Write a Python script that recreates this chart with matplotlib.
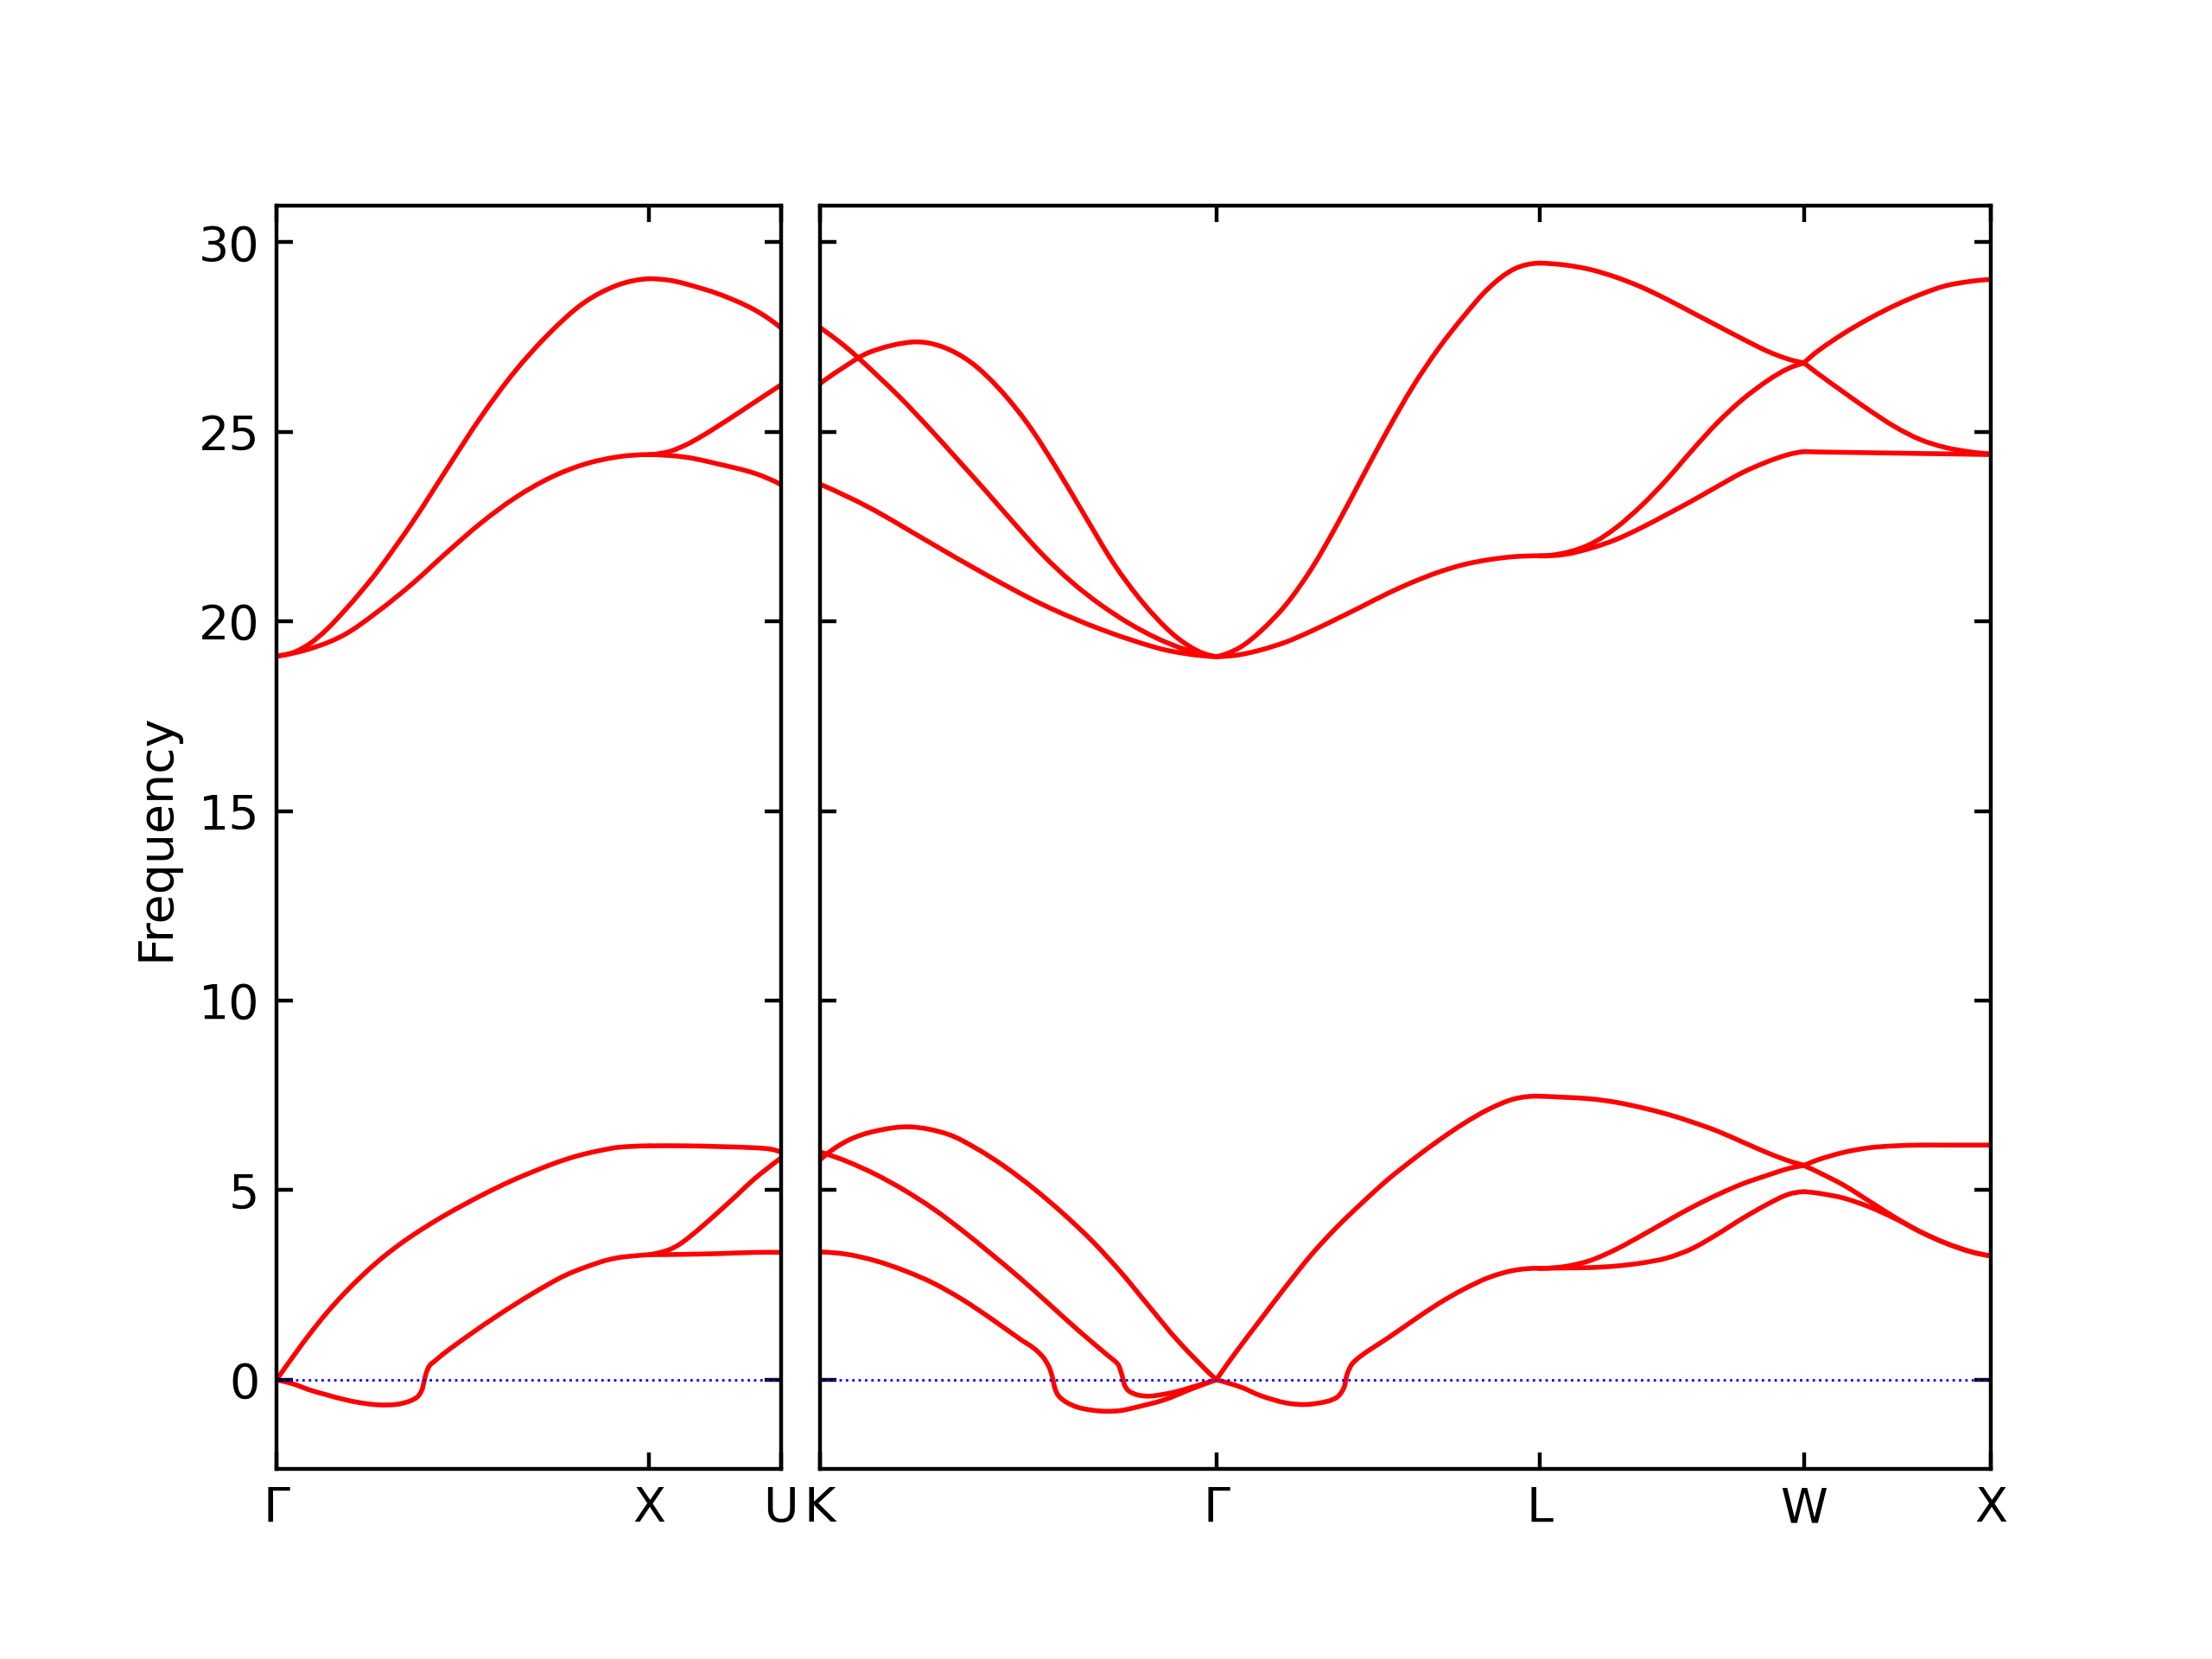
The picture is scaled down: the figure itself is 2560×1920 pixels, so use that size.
import numpy as np
import matplotlib
matplotlib.use("Agg")
import matplotlib.pyplot as plt
from matplotlib.path import Path
from matplotlib.patches import PathPatch

# ---- path segment lengths (2pi/a units) ----
seg_GX, seg_XU = 1.0, 0.3536
seg_KG, seg_GL, seg_LW, seg_WX = 1.0607, 0.8660, 0.7071, 0.5

left_labels = ["Γ", "X", "U"]
right_labels = ["K", "Γ", "L", "W", "X"]
ytick_vals = [0, 5, 10, 15, 20, 25, 30]

# ---- Γ-X (fraction along segment, frequency) ----
gx_lo_q = [0, 0.045, 0.090, 0.136, 0.182, 0.228, 0.273, 0.365, 0.457, 0.549, 0.640, 0.732, 0.824, 0.915, 1.0]
gx_lo_f = [19.09, 19.18, 19.42, 19.80, 20.28, 20.80, 21.35, 22.62, 24.02, 25.40, 26.60, 27.60, 28.40, 28.87, 29.04]
gx_to_q = [0, 0.090, 0.182, 0.273, 0.365, 0.457, 0.549, 0.640, 0.732, 0.824, 0.915, 1.0]
gx_to_f = [19.09, 19.28, 19.65, 20.27, 21.0, 21.82, 22.6, 23.26, 23.78, 24.14, 24.34, 24.40]
gx_la_q = [0, 0.045, 0.09, 0.136, 0.182, 0.228, 0.273, 0.319, 0.365, 0.411, 0.457, 0.503, 0.549,
           0.594, 0.640, 0.686, 0.732, 0.778, 0.824, 0.870, 0.916, 1.0]
gx_la_f = [0, 0.62, 1.22, 1.78, 2.28, 2.73, 3.13, 3.49, 3.81, 4.10, 4.37, 4.62, 4.86,
           5.08, 5.29, 5.48, 5.66, 5.82, 5.95, 6.05, 6.13, 6.17]
gx_ta_q = [0, 0.045, 0.09, 0.136, 0.182, 0.228, 0.273, 0.32, 0.355, 0.378, 0.39, 0.396, 0.402,
           0.411, 0.424, 0.447, 0.484, 0.521, 0.594, 0.686, 0.778, 0.870, 0.916, 0.961, 1.0]
gx_ta_f = [0, -0.11, -0.27, -0.40, -0.52, -0.61, -0.66, -0.65, -0.57, -0.45, -0.27, -0.04, 0.19,
           0.38, 0.49, 0.68, 0.95, 1.21, 1.70, 2.27, 2.77, 3.11, 3.22, 3.27, 3.30]

# ---- X-U ----
xu_lo_q = [0, 0.15, 0.28, 0.539, 0.798, 1.0]
xu_lo_f = [29.04, 29.00, 28.90, 28.62, 28.22, 27.74]
xu_to1_q = [0, 0.15, 0.28, 0.41, 0.539, 0.668, 0.798, 1.0]
xu_to1_f = [24.40, 24.48, 24.66, 24.91, 25.19, 25.48, 25.78, 26.24]
xu_to2_q = [0, 0.28, 0.539, 0.798, 1.0]
xu_to2_f = [24.40, 24.33, 24.14, 23.91, 23.61]
xu_la_q = [0, 0.28, 0.539, 0.798, 0.927, 1.0]
xu_la_f = [6.17, 6.17, 6.15, 6.12, 6.08, 6.00]
xu_ta1_q = [0, 0.28, 0.539, 0.798, 1.0]
xu_ta1_f = [3.30, 3.31, 3.33, 3.36, 3.36]
xu_ta2_q = [0, 0.073, 0.150, 0.228, 0.306, 0.409, 0.539, 0.668, 0.798, 1.0]
xu_ta2_f = [3.30, 3.35, 3.43, 3.57, 3.77, 4.07, 4.47, 4.88, 5.30, 5.85]

# ---- K-Γ ----
kg_p_q = [0, 0.052, 0.097, 0.198, 0.271, 0.343, 0.416, 0.489, 0.561, 0.634, 0.707, 0.780, 0.852, 0.925, 1.0]
kg_p_f = [27.75, 27.35, 26.95, 25.95, 25.15, 24.32, 23.47, 22.60, 21.77, 21.05, 20.45, 19.95, 19.55, 19.25, 19.07]
kg_h_q = [0, 0.052, 0.125, 0.234, 0.307, 0.380, 0.452, 0.525, 0.598, 0.671, 0.743, 0.816, 0.889, 0.950, 1.0]
kg_h_f = [26.27, 26.65, 27.10, 27.37, 27.25, 26.84, 26.14, 25.20, 24.02, 22.74, 21.50, 20.48, 19.68, 19.24, 19.07]
kg_r_q = [0, 0.125, 0.271, 0.416, 0.561, 0.707, 0.852, 0.93, 1.0]
kg_r_f = [23.62, 23.0, 22.12, 21.25, 20.45, 19.80, 19.30, 19.14, 19.07]
kg_s_q = [0, 0.068, 0.140, 0.228, 0.322, 0.395, 0.468, 0.540, 0.613, 0.686, 0.759, 0.831, 0.904, 1.0]
kg_s_f = [5.80, 6.30, 6.56, 6.67, 6.48, 6.10, 5.61, 5.04, 4.39, 3.67, 2.84, 1.93, 1.02, 0.0]
kg_m_q = [0, 0.068, 0.140, 0.213, 0.286, 0.359, 0.431, 0.504, 0.577, 0.649, 0.722, 0.751, 0.759,
          0.764, 0.769, 0.780, 0.802, 0.831, 0.868, 0.904, 0.940, 1.0]
kg_m_f = [6.01, 5.76, 5.42, 5.00, 4.51, 3.94, 3.33, 2.69, 2.01, 1.33, 0.68, 0.42, 0.23,
          0.04, -0.15, -0.30, -0.40, -0.43, -0.38, -0.30, -0.19, 0.0]
kg_t_q = [0, 0.068, 0.140, 0.213, 0.286, 0.359, 0.431, 0.504, 0.540, 0.562, 0.575, 0.582, 0.588,
          0.593, 0.602, 0.620, 0.649, 0.686, 0.722, 0.759, 0.795, 0.868, 0.940, 1.0]
kg_t_f = [3.37, 3.31, 3.14, 2.88, 2.55, 2.12, 1.62, 1.08, 0.83, 0.61, 0.40, 0.23, 0.0,
          -0.23, -0.42, -0.58, -0.72, -0.80, -0.83, -0.81, -0.73, -0.53, -0.23, 0.0]

# ---- Γ-L ----
gl_lo_q = [0, 0.070, 0.138, 0.216, 0.295, 0.373, 0.451, 0.530, 0.608, 0.687, 0.765, 0.843, 0.922, 1.0]
gl_lo_f = [19.07, 19.30, 19.75, 20.45, 21.40, 22.55, 23.80, 25.05, 26.20, 27.20, 28.05, 28.80, 29.30, 29.45]
gl_to_q = [0, 0.070, 0.138, 0.216, 0.295, 0.373, 0.451, 0.530, 0.608, 0.687, 0.765, 0.843, 0.922, 1.0]
gl_to_f = [19.07, 19.12, 19.25, 19.46, 19.75, 20.07, 20.40, 20.74, 21.04, 21.30, 21.50, 21.63, 21.71, 21.73]
gl_la_q = [0, 0.060, 0.138, 0.216, 0.295, 0.373, 0.451, 0.530, 0.608, 0.687, 0.765, 0.843, 0.922, 1.0]
gl_la_f = [0, 0.72, 1.60, 2.47, 3.31, 4.03, 4.67, 5.28, 5.81, 6.31, 6.76, 7.14, 7.41, 7.48]
gl_ta_q = [0, 0.075, 0.138, 0.216, 0.279, 0.342, 0.373, 0.389, 0.397, 0.401, 0.408, 0.420, 0.444,
           0.483, 0.530, 0.608, 0.687, 0.765, 0.843, 0.922, 1.0]
gl_ta_f = [0, -0.19, -0.42, -0.61, -0.65, -0.57, -0.46, -0.30, -0.15, 0.04, 0.23, 0.42, 0.61,
           0.84, 1.10, 1.56, 2.01, 2.39, 2.70, 2.89, 2.94]

# ---- L-W ----
lw_q = [0, 0.096, 0.192, 0.288, 0.384, 0.480, 0.576, 0.672, 0.768, 0.864, 0.940, 1.0]
lw_lo_f = [29.45, 29.40, 29.28, 29.08, 28.82, 28.50, 28.15, 27.80, 27.45, 27.12, 26.92, 26.82]
lw_to1_f = [21.73, 21.81, 22.04, 22.47, 23.05, 23.74, 24.51, 25.24, 25.86, 26.36, 26.67, 26.81]
lw_to2_f = [21.73, 21.77, 21.93, 22.16, 22.47, 22.82, 23.18, 23.56, 23.93, 24.22, 24.40, 24.48]
lw_la_f = [7.48, 7.45, 7.41, 7.32, 7.18, 7.01, 6.80, 6.56, 6.27, 5.98, 5.78, 5.66]
lw_ta1_f = [2.94, 2.99, 3.15, 3.44, 3.80, 4.18, 4.55, 4.88, 5.17, 5.40, 5.57, 5.65]
lw_ta2_f = [2.94, 2.95, 2.96, 3.00, 3.08, 3.21, 3.46, 3.84, 4.26, 4.64, 4.89, 4.96]

# ---- W-X ----
wx_q = [0, 0.079, 0.214, 0.350, 0.485, 0.621, 0.756, 0.892, 1.0]
wx_up_f = [26.82, 27.15, 27.60, 27.99, 28.33, 28.62, 28.85, 28.97, 29.02]
wx_dn_f = [26.82, 26.52, 26.04, 25.57, 25.14, 24.80, 24.59, 24.47, 24.42]
wx_flat_f = [24.48, 24.47, 24.46, 24.45, 24.44, 24.43, 24.42, 24.41, 24.40]
wx_la_f = [5.65, 5.81, 6.00, 6.12, 6.17, 6.19, 6.19, 6.19, 6.19]
wx_dn1_f = [5.65, 5.47, 5.13, 4.71, 4.29, 3.91, 3.61, 3.38, 3.27]
wx_dn2_f = [4.96, 4.92, 4.79, 4.56, 4.26, 3.91, 3.61, 3.38, 3.27]

YLIM = (-2.34, 30.96)
SX, SY = 432.0, 43.87   # approx. pixels per unit, used only to keep curve smoothing isotropic

fig = plt.figure(figsize=(6.4, 4.8), dpi=400)
axL = fig.add_axes([0.125, 0.1148, 0.3531 - 0.125, 0.7611])
axR = fig.add_axes([0.3707, 0.1148, 0.9 - 0.3707, 0.7611])


def smooth_path(x, y):
    P = np.column_stack([np.asarray(x) * SX, np.asarray(y) * SY])
    n = len(P)
    T = np.zeros_like(P)
    for i in range(1, n - 1):
        d = P[i + 1] - P[i - 1]
        T[i] = d / np.hypot(*d)
    d0 = P[1] - P[0]
    d0 = d0 / np.hypot(*d0)
    dn = P[-1] - P[-2]
    dn = dn / np.hypot(*dn)
    if n > 2:
        t0 = 2 * d0 - T[1]
        tn = 2 * dn - T[-2]
        T[0] = t0 / np.hypot(*t0)
        T[-1] = tn / np.hypot(*tn)
    else:
        T[0], T[-1] = d0, dn
    verts = [P[0]]
    codes = [Path.MOVETO]
    for i in range(n - 1):
        L = np.hypot(*(P[i + 1] - P[i]))
        verts += [P[i] + T[i] * L / 3, P[i + 1] - T[i + 1] * L / 3, P[i + 1]]
        codes += [Path.CURVE4] * 3
    V = np.array(verts)
    V[:, 0] /= SX
    V[:, 1] /= SY
    return Path(V, codes)


def draw(ax, start, length, q, f):
    x = start + length * np.asarray(q)
    ax.add_patch(PathPatch(smooth_path(x, f), fill=False, edgecolor="r",
                           linewidth=1, capstyle="round", joinstyle="round"))


# left panel
L0 = 0.0
L1 = L0 + seg_GX
L2 = L1 + seg_XU
for q, f in [(gx_lo_q, gx_lo_f), (gx_to_q, gx_to_f), (gx_la_q, gx_la_f), (gx_ta_q, gx_ta_f)]:
    draw(axL, L0, seg_GX, q, f)
for q, f in [(xu_lo_q, xu_lo_f), (xu_to1_q, xu_to1_f), (xu_to2_q, xu_to2_f),
             (xu_la_q, xu_la_f), (xu_ta1_q, xu_ta1_f), (xu_ta2_q, xu_ta2_f)]:
    draw(axL, L1, seg_XU, q, f)

# right panel
R0 = 0.0
R1 = R0 + seg_KG
R2 = R1 + seg_GL
R3 = R2 + seg_LW
R4 = R3 + seg_WX
for q, f in [(kg_p_q, kg_p_f), (kg_h_q, kg_h_f), (kg_r_q, kg_r_f),
             (kg_s_q, kg_s_f), (kg_m_q, kg_m_f), (kg_t_q, kg_t_f)]:
    draw(axR, R0, seg_KG, q, f)
for q, f in [(gl_lo_q, gl_lo_f), (gl_to_q, gl_to_f), (gl_la_q, gl_la_f), (gl_ta_q, gl_ta_f)]:
    draw(axR, R1, seg_GL, q, f)
for f in [lw_lo_f, lw_to1_f, lw_to2_f, lw_la_f, lw_ta1_f, lw_ta2_f]:
    draw(axR, R2, seg_LW, lw_q, f)
for f in [wx_up_f, wx_dn_f, wx_flat_f, wx_la_f, wx_dn1_f, wx_dn2_f]:
    draw(axR, R3, seg_WX, wx_q, f)

for ax, xmax, ticks, labels in [(axL, L2, [L0, L1, L2], left_labels),
                                (axR, R4, [R0, R1, R2, R3, R4], right_labels)]:
    ax.axhline(0, linestyle=":", linewidth=0.5, color="b")
    ax.set_xlim(0, xmax)
    ax.set_ylim(*YLIM)
    ax.set_xticks(ticks)
    ax.set_xticklabels(labels)
    ax.set_yticks(ytick_vals)
    ax.xaxis.set_ticks_position("both")
    ax.yaxis.set_ticks_position("both")
    ax.tick_params(which="both", direction="in", labelsize=10)

axR.set_yticklabels([])
axL.set_ylabel("Frequency")

fig.savefig("out.png", dpi=400)
